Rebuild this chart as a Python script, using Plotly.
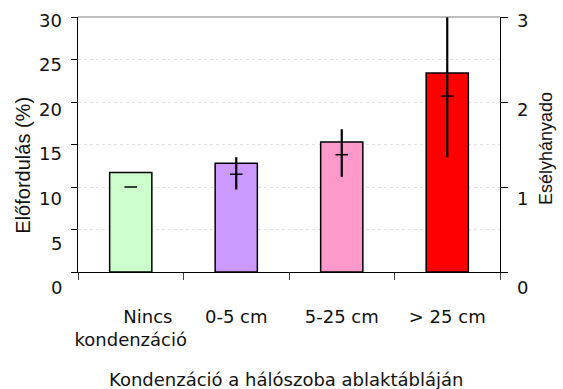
import plotly.graph_objects as go

# Condensation on the bedroom window pane: prevalence (%) and odds ratio
categories = ["Nincs kondenzáció", "0-5 cm", "5-25 cm", "> 25 cm"]
tick_text = ["\u00a0" * 6 + "Nincs<br>kondenzáció", "0-5 cm", "5-25 cm", "> 25 cm"]
prevalence = [11.7, 12.8, 15.3, 23.4]          # bars, left axis (%)
odds_ratio = [1.0, 1.15, 1.38, 2.07]           # markers, right axis
or_low = [1.0, 0.97, 1.12, 1.35]
or_high = [1.0, 1.35, 1.68, 3.03]
bar_colors = ["#ccffcc", "#cc99ff", "#ff99cc", "#ff0000"]

left_ticks = [0, 5, 10, 15, 20, 25, 30]
right_ticks = [0, 1, 2, 3]

TICK_FONT = dict(family="DejaVu Sans", size=18, color="#111111")
TITLE_FONT = dict(family="Liberation Sans", size=18, color="#111111")

fig = go.Figure()

fig.add_trace(go.Bar(
    x=categories, y=prevalence, width=0.4,
    marker=dict(color=bar_colors, line=dict(color="black", width=1.5)),
    showlegend=False, hoverinfo="skip",
))

fig.add_trace(go.Scatter(
    x=categories, y=odds_ratio, yaxis="y2", mode="markers",
    marker=dict(symbol="line-ew", size=9, line=dict(color="black", width=1.5)),
    error_y=dict(
        type="data", symmetric=False,
        array=[h - v for h, v in zip(or_high, odds_ratio)],
        arrayminus=[v - l for v, l in zip(odds_ratio, or_low)],
        color="black", thickness=2.2, width=0,
    ),
    cliponaxis=False, showlegend=False, hoverinfo="skip",
))

# y tick labels are drawn as text; their spacing is a little wider than the grid
def label_shift(v_left):
    return -(15.7 - v_left * 0.4233)

annotations = []
for v in left_ticks:
    annotations.append(dict(
        text=str(v), xref="paper", x=0, xanchor="right", xshift=-14,
        yref="y", y=v, yanchor="middle", yshift=label_shift(v),
        showarrow=False, font=TICK_FONT,
    ))
for v in right_ticks:
    annotations.append(dict(
        text=str(v), xref="paper", x=1, xanchor="left", xshift=15,
        yref="y2", y=v, yanchor="middle", yshift=label_shift(v * 10),
        showarrow=False, font=TICK_FONT,
    ))

annotations += [
    dict(text="Kondenzáció a hálószoba ablaktábláján", xref="paper", x=0.5,
         xanchor="center", xshift=-3, yref="paper", y=0, yanchor="middle",
         yshift=-107, showarrow=False, font=TICK_FONT),
    dict(text="Előfordulás (%)", textangle=-90, xref="paper", x=0,
         xanchor="center", xshift=-55, yref="paper", y=0.417,
         yanchor="middle", showarrow=False,
         font=dict(family="Liberation Sans", size=20, color="#111111")),
    dict(text="Esélyhányado", textangle=-90, xref="paper", x=1,
         xanchor="center", xshift=46, yref="paper", y=0.482,
         yanchor="middle", showarrow=False, font=TITLE_FONT),
]

fig.update_layout(
    width=563, height=389,
    margin=dict(l=78, r=63, t=17, b=117),
    paper_bgcolor="white", plot_bgcolor="white",
    bargap=0.6,
    xaxis=dict(
        type="category", categoryorder="array", categoryarray=categories,
        tickmode="array", tickvals=categories, ticktext=tick_text,
        tickson="boundaries", ticks="outside", ticklen=7, tickcolor="#444444",
        showline=True, linecolor="black", linewidth=1,
        tickfont=TICK_FONT, tickangle=0, ticklabelstandoff=28,
        automargin=False,
        showgrid=False, zeroline=False, range=[-0.5, 3.5],
    ),
    yaxis=dict(
        range=[0, 30], tickvals=left_ticks, showticklabels=False,
        ticks="outside", ticklen=6, tickcolor="black",
        showline=True, linecolor="black", linewidth=1,
        showgrid=True, gridcolor="#e2e2e2", griddash="dot", gridwidth=1,
        zeroline=False, automargin=False,
    ),
    yaxis2=dict(
        range=[0, 3], tickvals=right_ticks, showticklabels=False,
        overlaying="y", side="right",
        ticks="outside", ticklen=7, tickcolor="black",
        showline=True, linecolor="black", linewidth=1,
        showgrid=False, zeroline=False, automargin=False,
    ),
    annotations=annotations,
    shapes=[dict(type="line", xref="paper", yref="paper", x0=0, x1=1, y0=1, y1=1,
                 line=dict(color="#7f7f7f", width=1))],
)

fig.write_html("out.html")
